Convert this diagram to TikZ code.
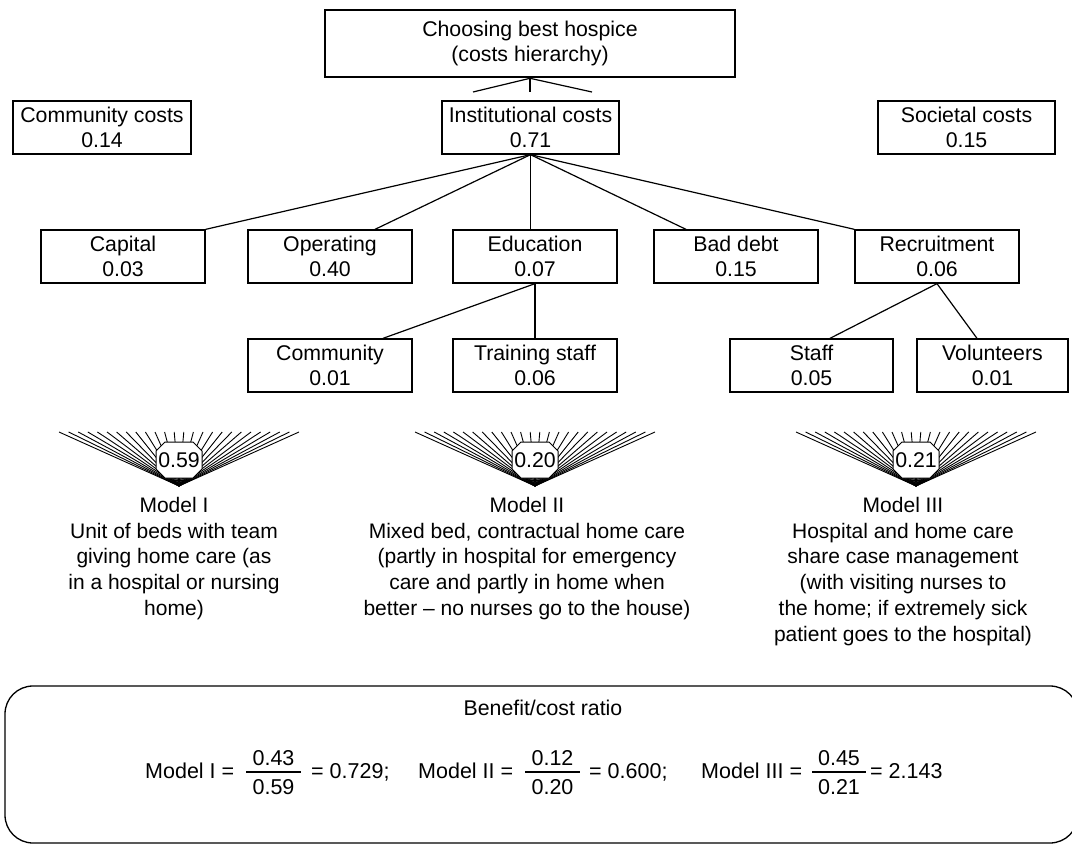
\documentclass[tikz,border=0pt]{standalone}
\usepackage{fontspec}
\setmainfont{Liberation Sans}
\usetikzlibrary{calc}
\tikzset{
  pics/fan/.style={code={
    \foreach \k in {0,...,25}{\draw[fanline] (0,0) -- ({-120+\k*9.6},-54);}
    \filldraw[fill=white,line width=1pt] (-14,-44) -- (14,-44) -- (23,-35) -- (23,-17) -- (14,-8) -- (-14,-8) -- (-23,-17) -- (-23,-35) -- cycle;
    \node[inner sep=0pt] (-label) at (0,-26) {#1};
  }}
}
\begin{document}
\begin{tikzpicture}[x=1pt,y=-1pt,
  every node/.style={font=\fontsize{21.3}{25}\selectfont},
  box/.style={draw,line width=1.3pt,align=center,inner sep=0pt,minimum height=53pt,minimum width=#1},
  box/.default=164pt,
  topbox/.style={draw,line width=2.6pt,align=center,inner sep=0pt,minimum width=410pt,minimum height=67pt},
  conn/.style={line width=1.2pt},
  fanline/.style={line width=0.9pt},
  modeltext/.style={align=center,anchor=north,inner sep=0pt,font=\fontsize{21}{25.75}\selectfont},
  ratiobox/.style={draw,line width=1.3pt,rounded corners=28pt,minimum width=1073pt,minimum height=157pt,inner sep=0pt},
  ftext/.style={inner sep=0pt,anchor=base west,font=\fontsize{21.5}{25}\selectfont},
  fnum/.style={inner sep=0pt,anchor=base,font=\fontsize{21.5}{25}\selectfont},
  fbar/.style={line width=1.2pt}
]
\useasboundingbox (0,0) rectangle (1072,845);

% top
\node[topbox] (top) at (530,43.5) {Choosing best hospice\\(costs hierarchy)};
\coordinate (s1) at (473,92);
\coordinate (s2) at (530,92);
\coordinate (s3) at (592,92);
\draw[conn] (top.south) -- (s1);
\draw[conn] (top.south) -- (s2);
\draw[conn] (top.south) -- (s3);

% row 1
\node[box=178pt] (commc) at (102,127.5) {Community costs\\0.14};
\node[box=177pt] (inst) at (530.5,127.5) {Institutional costs\\0.71};
\node[box=177pt] (soc) at (966.5,127.5) {Societal costs\\0.15};

% row 2
\node[box] (cap) at (123,256.5) {Capital\\0.03};
\node[box] (op) at (330,256.5) {Operating\\0.40};
\node[box] (edu) at (535,256.5) {Education\\0.07};
\node[box] (bad) at (736,256.5) {Bad debt\\0.15};
\node[box] (rec) at (937,256.5) {Recruitment\\0.06};

\draw[conn] (inst.south) -- (cap.north east);
\draw[conn] (inst.south) -- ($(op.north)+(45,0)$);
\draw[conn] (inst.south) -- (inst.south |- edu.north);
\draw[conn] (inst.south) -- ($(bad.north)+(-50,0)$);
\draw[conn] (inst.south) -- (rec.north west);

% row 3
\node[box] (com) at (330,365.5) {Community\\0.01};
\node[box] (tr) at (535,365.5) {Training staff\\0.06};
\node[box=163pt] (staff) at (811.5,365.5) {Staff\\0.05};
\node[box=151pt] (vol) at (992.5,365.5) {Volunteers\\0.01};

\draw[conn] (edu.south) -- ($(com.north)+(53,0)$);
\draw[conn] (edu.south) -- (tr.north);
\draw[conn] (rec.south) -- ($(staff.north)+(18.5,0)$);
\draw[conn] (rec.south) -- ($(vol.north)+(-15.5,0)$);

% fans
\pic (f1) at (179,486) {fan={0.59}};
\pic (f2) at (535,486) {fan={0.20}};
\pic (f3) at (916,486) {fan={0.21}};

% model texts
\node[modeltext] (m1) at (174,497) {Model I\\Unit of beds with team\\giving home care (as\\in a hospital or nursing\\home)};
\node[modeltext] (m2) at (527,497) {Model II\\Mixed bed, contractual home care\\(partly in hospital for emergency\\care and partly in home when\\better -- no nurses go to the house)};
\node[modeltext] (m3) at (903,497) {Model III\\Hospital and home care\\share case management\\(with visiting nurses to\\the home; if extremely sick\\patient goes to the hospital)};

% ratio box
\node[ratiobox] (ratio) at (541.5,764.5) {};
\node[inner sep=0pt] (rtitle) at (543,708) {Benefit/cost ratio};

\node[ftext] (l1) at (145,778) {Model I =};
\node[fnum] (n1) at (273.5,765.5) {0.43};
\node[fnum] (d1) at (273.5,794.5) {0.59};
\draw[fbar] (246,772) -- (301,772);
\node[ftext] (r1) at (311,778) {= 0.729;};

\node[ftext] (l2) at (418,778) {Model II =};
\node[fnum] (n2) at (552.5,765.5) {0.12};
\node[fnum] (d2) at (552.5,794.5) {0.20};
\draw[fbar] (525,772) -- (580,772);
\node[ftext] (r2) at (589,778) {= 0.600;};

\node[ftext] (l3) at (701,778) {Model III =};
\node[fnum] (n3) at (839,765.5) {0.45};
\node[fnum] (d3) at (839,794.5) {0.21};
\draw[fbar] (812,772) -- (866,772);
\node[ftext] (r3) at (870,778) {= 2.143};
\end{tikzpicture}
\end{document}
